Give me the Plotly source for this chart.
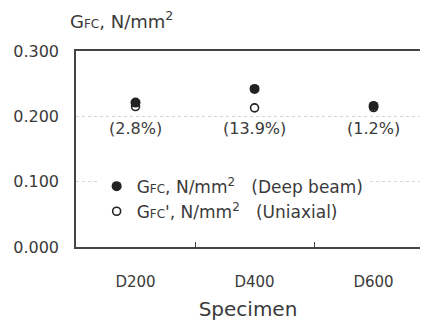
import plotly.graph_objects as go

specimens = ["D200", "D400", "D600"]
deep_beam = [0.221, 0.242, 0.216]
uniaxial = [0.215, 0.213, 0.2135]
diff_labels = ["(2.8%)", "(13.9%)", "(1.2%)"]
label_y = [0.181, 0.181, 0.181]
y_ticks = [0.0, 0.1, 0.2, 0.3]

FONT = "DejaVu Sans"
TXT = "#3a3a3a"

fig = go.Figure()
fig.add_trace(go.Scatter(
    x=specimens, y=uniaxial, mode="markers",
    name="G<span style='font-size:12px'>FC</span>', N/mm<sup>2</sup>   (Uniaxial)",
    marker=dict(symbol="circle-open", size=8, color="#222222", line=dict(width=1.6, color="#222222")),
))
fig.add_trace(go.Scatter(
    x=specimens, y=deep_beam, mode="markers",
    name="G<span style='font-size:12px'>FC</span>, N/mm<sup>2</sup>   (Deep beam)",
    marker=dict(symbol="circle", size=10, color="#222222"),
))

for xv, yv, t in zip(specimens, label_y, diff_labels):
    fig.add_annotation(x=xv, y=yv, text=t, showarrow=False,
                       font=dict(family=FONT, size=16, color=TXT))

fig.add_annotation(xref="paper", yref="paper", x=-0.023, y=1.16, xanchor="left", yanchor="middle",
                   text="G<span style='font-size:12px'>FC</span>, N/mm<sup>2</sup>", showarrow=False,
                   font=dict(family=FONT, size=18, color=TXT))

fig.update_layout(
    width=412, height=313,
    margin=dict(l=68, r=0, t=43, b=72),
    paper_bgcolor="white", plot_bgcolor="white",
    font=dict(family=FONT, size=16, color=TXT),
    showlegend=True,
    legend=dict(x=0.06, y=0.40, xanchor="left", yanchor="top", bgcolor="white",
                traceorder="reversed", font=dict(family=FONT, size=17, color=TXT),
                itemwidth=30, tracegroupgap=0),
    xaxis=dict(
        type="category", range=[-0.5, 2.39],
        showline=True, linecolor="#444444", linewidth=1.5, mirror=True,
        ticks="inside", tickson="boundaries", ticklen=5, tickcolor="#444444",
        showgrid=False, tickfont=dict(family=FONT, size=15, color=TXT),
        ticklabelstandoff=20,
        title=dict(text="Specimen", font=dict(family=FONT, size=20, color=TXT), standoff=16),
    ),
    yaxis=dict(
        range=[0, 0.3], tickvals=y_ticks, tickformat=".3f",
        showline=True, linecolor="#444444", linewidth=1.5,
        showgrid=True, gridcolor="#d4d4d4", griddash="dot", gridwidth=1,
        zeroline=False, ticks="", ticklabelstandoff=12,
        tickfont=dict(family=FONT, size=16, color=TXT),
    ),
)

fig.write_html("out.html")
